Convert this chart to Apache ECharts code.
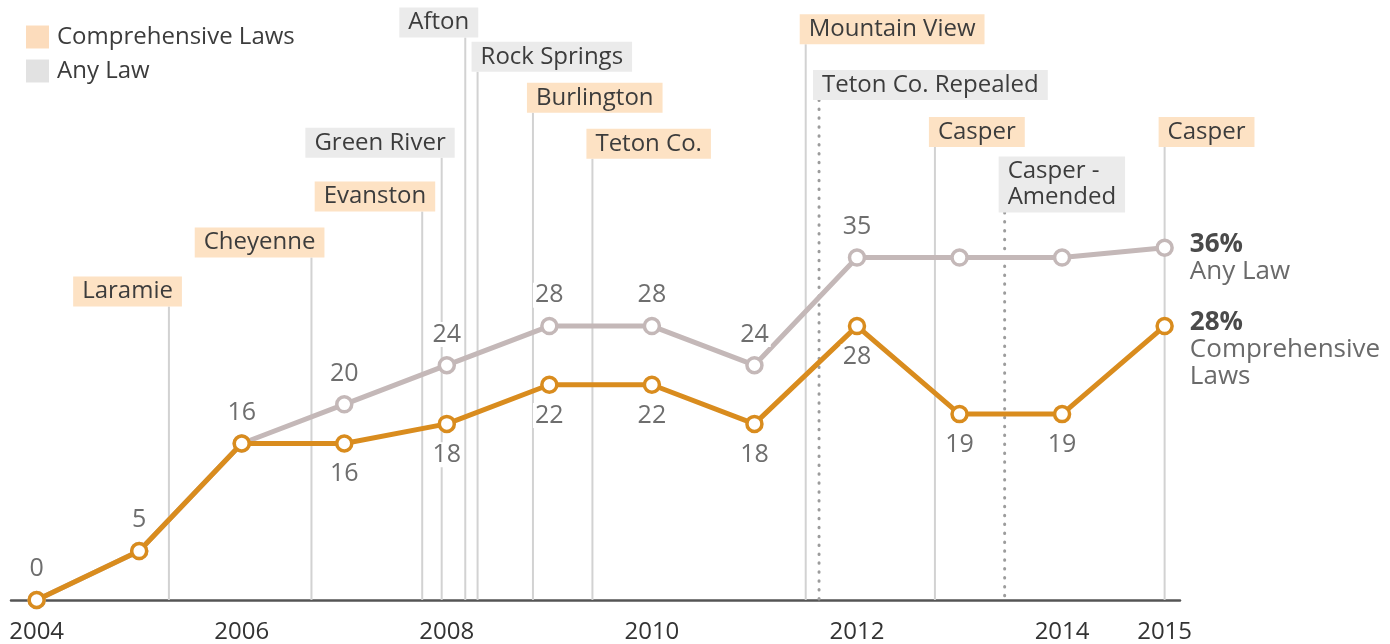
<!DOCTYPE html>
<html>
<head>
<meta charset="utf-8">
<script src="https://cdn.jsdelivr.net/npm/echarts@6/dist/echarts.min.js"></script>
<style>
html,body{margin:0;padding:0;background:#fff;}
#chart{width:1390px;height:644px;}
</style>
</head>
<body>
<div id="chart"></div>
<script>
// ---- data ----
const years = [2004, 2005, 2006, 2007, 2008, 2009, 2010, 2011, 2012, 2013, 2014, 2015];
const comprehensive = [0, 5, 16, 16, 18, 22, 22, 18, 28, 19, 19, 28];
const anyLaw = [0, 5, 16, 20, 24, 28, 28, 24, 35, 35, 35, 36];
const xTickLabels = [2004, 2006, 2008, 2010, 2012, 2014, 2015];

const eventNames = ['Laramie', 'Cheyenne', 'Evanston', 'Green River', 'Afton', 'Rock Springs', 'Burlington',
  'Teton Co.', 'Mountain View', 'Teton Co. Repealed', 'Casper', 'Casper -\nAmended', 'Casper'];
const eventDates = [2005.29, 2006.68, 2007.76, 2007.95, 2008.18, 2008.30, 2008.84,
  2009.42, 2011.50, 2011.63, 2012.76, 2013.44, 2015.0];
const eventLevels = [30.0, 35.0, 39.7, 45.2, 57.5, 54.0, 49.8, 45.1, 56.8, 51.1, 46.3, 39.6, 46.3];
const eventTypes = ['comprehensive', 'comprehensive', 'comprehensive', 'any', 'any', 'any', 'comprehensive',
  'comprehensive', 'comprehensive', 'repeal', 'comprehensive', 'amend', 'comprehensive'];
const eventSides = ['left', 'left', 'left', 'left', 'left', 'right', 'right', 'right', 'right', 'right', 'right', 'right', 'right'];

// ---- styling ----
const ORANGE = '#d98c1e';
const GREY = '#c4b8b8';
const PEACH_BG = '#fde2c4';
const GREY_BG = '#ebebeb';
const FONT = '"Open Sans", "Noto Sans", sans-serif';

const compLabelPos = ['top', 'top', 'top', 'bottom', 'bottom', 'bottom', 'bottom', 'bottom', 'bottom', 'bottom', 'bottom', 'end'];
const anyLabelPos = [null, null, null, 'top', 'top', 'top', 'top', 'top', 'top', null, null, 'end'];

const valueLabel = {
  show: true,
  fontSize: 25,
  color: '#6e6e6e',
  fontFamily: FONT,
  backgroundColor: '#fff',
  padding: [0, 2],
  distance: 9,
  formatter: p => String(p.value[1])
};

function endLabel(pct, name) {
  return {
    show: true,
    position: 'right',
    distance: 16,
    verticalAlign: 'top',
    align: 'left',
    offset: [0, -17],
    backgroundColor: 'transparent',
    padding: 0,
    formatter: '{b|' + pct + '%}\n{n|' + name + '}',
    rich: {
      b: { fontSize: 26, fontWeight: 'bold', color: '#4a4a4a', lineHeight: 27, fontFamily: FONT },
      n: { fontSize: 26, color: '#6a6a6a', lineHeight: 27, fontFamily: FONT }
    }
  };
}

function buildData(vals, posArr, endName) {
  return years.map((y, i) => {
    const item = { value: [y, vals[i]] };
    const pos = posArr[i];
    if (pos === 'end') {
      item.label = endLabel(vals[i], endName);
    } else if (pos) {
      item.label = Object.assign({}, valueLabel, { position: pos });
    }
    return item;
  });
}

function renderEvent(params, api) {
  const i = api.value(2);
  const top = api.coord([api.value(0), api.value(1)]);
  const bot = api.coord([api.value(0), 0]);
  const type = eventTypes[i];
  const dotted = (type === 'repeal' || type === 'amend');
  const bg = (type === 'comprehensive') ? PEACH_BG : GREY_BG;
  const left = eventSides[i] === 'left';
  return {
    type: 'group',
    children: [
      {
        type: 'line',
        shape: { x1: top[0], y1: top[1], x2: bot[0], y2: bot[1] },
        style: dotted
          ? { stroke: '#9c9c9c', lineWidth: 3, lineDash: [0.5, 8.4], lineCap: 'round' }
          : { stroke: '#d2d2d2', lineWidth: 2 }
      },
      {
        type: 'text',
        x: left ? top[0] + 13 : top[0] - 6,
        y: top[1],
        style: {
          text: eventNames[i],
          align: left ? 'right' : 'left',
          verticalAlign: 'bottom',
          fontSize: 24,
          fontFamily: FONT,
          fill: '#3c3c3c',
          backgroundColor: bg,
          padding: [2, 9, 2, 9],
          lineHeight: 26
        }
      }
    ]
  };
}

const chart = echarts.init(document.getElementById('chart'), null, { renderer: 'canvas' });
chart.setOption({
  animation: false,
  backgroundColor: '#fff',
  textStyle: { fontFamily: FONT },
  legend: {
    orient: 'vertical',
    left: 21,
    top: 20,
    itemWidth: 23,
    itemHeight: 23,
    itemGap: 10,
    selectedMode: false,
    textStyle: { fontSize: 24, color: '#3c3c3c', fontFamily: FONT, padding: [0, 0, 0, 3] },
    data: [
      { name: 'Comprehensive Laws', icon: 'rect', itemStyle: { color: '#fcdcbc', borderWidth: 0 } },
      { name: 'Any Law', icon: 'rect', itemStyle: { color: '#e2e2e2', borderWidth: 0 } }
    ]
  },
  grid: { left: 11, right: 210, top: 13, bottom: 43, containLabel: false },
  xAxis: {
    type: 'value',
    min: 2003.75,
    max: 2015.15,
    splitLine: { show: false },
    axisTick: { show: false },
    axisLine: { show: true, lineStyle: { color: '#555', width: 2.5 } },
    axisLabel: {
      customValues: xTickLabels,
      formatter: v => String(v),
      fontSize: 24,
      color: '#333',
      margin: 20,
      fontFamily: FONT
    }
  },
  yAxis: {
    type: 'value',
    min: 0,
    max: 60,
    show: false,
    splitLine: { show: false }
  },
  series: [
    {
      type: 'custom',
      name: 'events',
      renderItem: renderEvent,
      data: eventDates.map((d, i) => [d, eventLevels[i], i]),
      encode: { x: 0, y: 1 },
      clip: false,
      silent: true,
      z: 1
    },
    {
      type: 'line',
      name: 'Any Law',
      data: buildData(anyLaw, anyLabelPos, 'Any Law'),
      symbol: 'circle',
      symbolSize: 15,
      lineStyle: { color: GREY, width: 5 },
      itemStyle: { color: '#fff', borderColor: GREY, borderWidth: 3.5 },
      emphasis: { disabled: true },
      z: 3
    },
    {
      type: 'line',
      name: 'Comprehensive Laws',
      data: buildData(comprehensive, compLabelPos, 'Comprehensive\nLaws'),
      symbol: 'circle',
      symbolSize: 15,
      lineStyle: { color: ORANGE, width: 5 },
      itemStyle: { color: '#fff', borderColor: ORANGE, borderWidth: 3.5 },
      emphasis: { disabled: true },
      z: 4
    }
  ]
});
</script>
</body>
</html>
